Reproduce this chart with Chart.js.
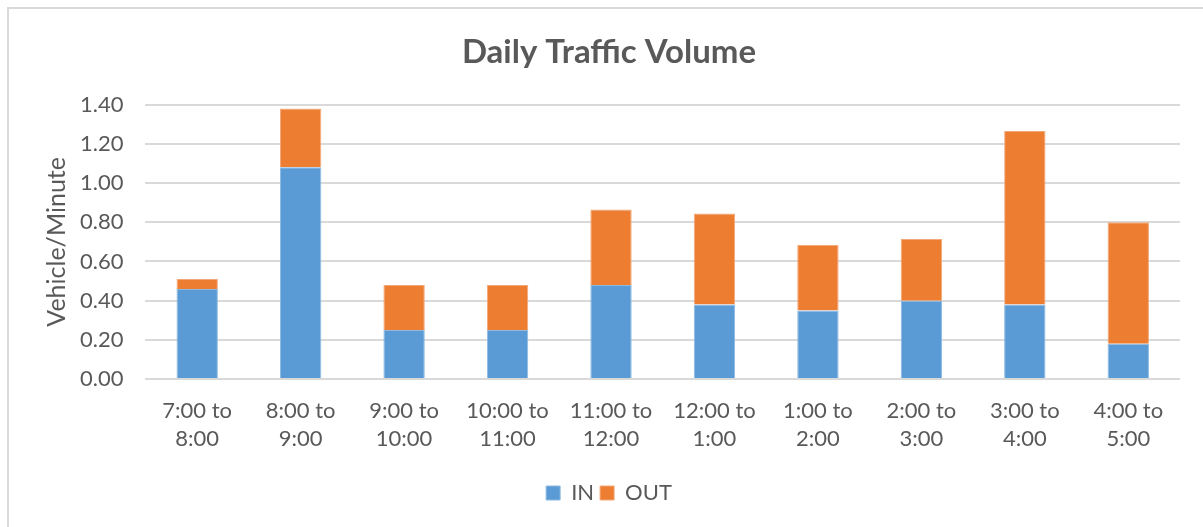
<!DOCTYPE html>
<html>
<head>
<meta charset="utf-8">
<script src="https://cdn.jsdelivr.net/npm/chart.js@4"></script>
<style>
  html, body { margin: 0; padding: 0; background: #fff; overflow: hidden; }
  #wrap { position: relative; width: 1203px; height: 527px; }
  #frame { position: absolute; left: 7px; top: 7px; width: 1220px; height: 540px; border: 2px solid #D9D9D9; box-sizing: border-box; }
  canvas { position: absolute; left: 0; top: 0; }
</style>
</head>
<body>
<div id="wrap">
  <div id="frame"></div>
  <canvas id="trafficChart" width="1203" height="527"></canvas>
</div>
<script>
const periods = [
    ["7:00 to", "8:00"], ["8:00 to", "9:00"], ["9:00 to", "10:00"], ["10:00 to", "11:00"],
    ["11:00 to", "12:00"], ["12:00 to", "1:00"], ["1:00 to", "2:00"], ["2:00 to", "3:00"],
    ["3:00 to", "4:00"], ["4:00 to", "5:00"]
];
const inValues = [0.46, 1.08, 0.25, 0.25, 0.48, 0.38, 0.35, 0.40, 0.38, 0.18];
const outValues = [0.05, 0.30, 0.23, 0.23, 0.385, 0.465, 0.335, 0.315, 0.885, 0.62];

const textColor = '#595959';
const fontFamily = 'Lato, "Open Sans", sans-serif';

const inSeries = {
    label: "IN",
    data: inValues,
    backgroundColor: '#5B9BD5',
    borderColor: '#8DB9E3',
    borderWidth: 1,
    barPercentage: 0.4,
    categoryPercentage: 1
};

const outSeries = {
    label: "OUT",
    data: outValues,
    backgroundColor: '#ED7D31',
    borderColor: '#F4A878',
    borderWidth: 1,
    barPercentage: 0.4,
    categoryPercentage: 1
};

const config = {
    type: 'bar',
    data: {
        labels: periods,
        datasets: [inSeries, outSeries]
    },
    options: {
        responsive: false,
        animation: false,
        layout: {
            padding: { left: 38, right: 23, top: 33, bottom: 13 }
        },
        plugins: {
            title: {
                display: true,
                text: 'Daily Traffic Volume',
                color: textColor,
                font: { family: fontFamily, size: 33, weight: 'bold' },
                padding: { top: 0, bottom: 32 }
            },
            legend: {
                position: 'bottom',
                labels: {
                    boxWidth: 14,
                    boxHeight: 14,
                    color: textColor,
                    padding: 6,
                    font: { family: fontFamily, size: 22 }
                }
            },
            tooltip: { enabled: false }
        },
        scales: {
            x: {
                stacked: true,
                grid: { display: false },
                border: { display: false },
                ticks: {
                    color: textColor,
                    font: { family: fontFamily, size: 22, lineHeight: 1.27 },
                    maxRotation: 0,
                    autoSkip: false,
                    padding: 10
                },
                afterFit: axis => { axis.height += 13; }
            },
            y: {
                stacked: true,
                min: 0,
                max: 1.4,
                grid: { color: '#D9D9D9', lineWidth: 2, drawTicks: false },
                border: { display: false },
                ticks: {
                    stepSize: 0.2,
                    color: textColor,
                    padding: 22,
                    font: { family: fontFamily, size: 22 },
                    callback: v => v.toFixed(2)
                },
                title: {
                    display: true,
                    text: 'Vehicle/Minute',
                    color: textColor,
                    font: { family: fontFamily, size: 25 },
                    padding: { top: 4, bottom: -14 }
                }
            }
        }
    }
};

const trafficChart = new Chart(document.getElementById("trafficChart"), config);
</script>
</body>
</html>
